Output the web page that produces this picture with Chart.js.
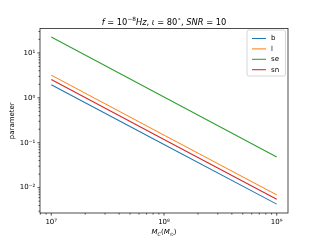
<!DOCTYPE html>
<html>
<head>
<meta charset="utf-8">
<script src="https://cdn.jsdelivr.net/npm/chart.js@4/dist/chart.umd.min.js"></script>
<style>
  html, body { margin: 0; padding: 0; background: #fff; }
  #wrap { width: 320px; height: 240px; }
</style>
</head>
<body>
<div id="wrap"><canvas id="grafico" width="320" height="240"></canvas></div>
<script>
// masas (x) y valores
const masas = [1e7, 1e8, 1e9];
const serieB = [1.95, 0.091, 0.0043];
const serieL = [3.2, 0.148, 0.0069];
const serieSE = [22.5, 1.04, 0.048];
const serieSN = [2.55, 0.118, 0.0055];
const etiquetas = ['b', 'l', 'se', 'sn'];
const colores = ['#1f77b4', '#ff7f0e', '#2ca02c', '#d62728'];

const FUENTE = 'DejaVu Sans';
const sup = { '0': '⁰', '1': '¹', '2': '²', '3': '³', '4': '⁴', '5': '⁵', '6': '⁶', '7': '⁷', '8': '⁸', '9': '⁹', '-': '⁻' };

function etiquetaLog(v) {
  const e = Math.log10(v);
  if (Math.abs(e - Math.round(e)) > 1e-6) return '';
  return '10' + String(Math.round(e)).split('').map(c => sup[c]).join('');
}

function puntos(valores) {
  return masas.map((m, i) => ({ x: m, y: valores[i] }));
}

// dibuja un texto hecho de trozos (normal, cursiva, super/subindice)
function textoCompuesto(ctx, partes, cx, base, size) {
  const fuenteDe = p => `${p.it ? 'italic ' : ''}${p.s ? size * 0.7 : size}px "${FUENTE}"`;
  let total = 0;
  partes.forEach(p => { ctx.font = fuenteDe(p); p.w = ctx.measureText(p.t).width; total += p.w; });
  let x = cx - total / 2;
  ctx.textAlign = 'left';
  ctx.textBaseline = 'alphabetic';
  partes.forEach(p => {
    ctx.font = fuenteDe(p);
    const dy = p.s === 'sup' ? -size * 0.45 : p.s === 'sub' ? size * 0.25 : 0;
    ctx.fillText(p.t, x, base + dy);
    x += p.w;
  });
}

const decoraciones = {
  id: 'decoraciones',
  afterDraw(chart) {
    const ctx = chart.ctx;
    const a = chart.chartArea;
    ctx.save();

    // marco
    ctx.strokeStyle = '#222';
    ctx.lineWidth = 0.8;
    ctx.strokeRect(a.left, a.top, a.right - a.left, a.bottom - a.top);

    // marcas de los ejes log (mayores y menores)
    ['x', 'y'].forEach(id => {
      const sc = chart.scales[id];
      const e0 = Math.floor(Math.log10(sc.min));
      const e1 = Math.ceil(Math.log10(sc.max));
      for (let e = e0; e <= e1; e++) {
        for (let k = 1; k <= 9; k++) {
          const v = k * Math.pow(10, e);
          if (v < sc.min || v > sc.max) continue;
          const p = sc.getPixelForValue(v);
          const largo = k === 1 ? 2.6 : 1.5;
          ctx.beginPath();
          if (id === 'x') {
            ctx.moveTo(p, a.bottom);
            ctx.lineTo(p, a.bottom + largo);
          } else {
            ctx.moveTo(a.left, p);
            ctx.lineTo(a.left - largo, p);
          }
          ctx.stroke();
        }
      }
    });

    // titulo
    ctx.fillStyle = '#000';
    textoCompuesto(ctx, [
      { t: 'f', it: true }, { t: ' = 10' }, { t: '−8', s: 'sup' }, { t: 'Hz', it: true },
      { t: ', ' }, { t: 'ι', it: true }, { t: ' = 80' }, { t: '∘', s: 'sup' }, { t: ', ' },
      { t: 'SNR', it: true }, { t: ' = 10' }
    ], (a.left + a.right) / 2, 24.5, 8.3);

    // etiqueta del eje x
    textoCompuesto(ctx, [
      { t: 'M', it: true }, { t: 'C', it: true, s: 'sub' }, { t: '(' },
      { t: 'M', it: true }, { t: '⊙', s: 'sub' }, { t: ')' }
    ], (a.left + a.right) / 2, 234, 7);

    // leyenda
    const lx = a.right - 41, ly = a.top + 1.5, lw = 38.5, lh = 46;
    ctx.fillStyle = 'rgba(255,255,255,0.8)';
    ctx.strokeStyle = '#cccccc';
    ctx.lineWidth = 0.8;
    ctx.beginPath();
    ctx.roundRect(lx, ly, lw, lh, 2);
    ctx.fill();
    ctx.stroke();
    ctx.font = `7px "${FUENTE}"`;
    ctx.textBaseline = 'middle';
    ctx.textAlign = 'left';
    chart.data.datasets.forEach((ds, i) => {
      const y = ly + 8.5 + i * 10.4;
      ctx.strokeStyle = ds.borderColor;
      ctx.lineWidth = 1.05;
      ctx.beginPath();
      ctx.moveTo(lx + 5, y);
      ctx.lineTo(lx + 19, y);
      ctx.stroke();
      ctx.fillStyle = '#000';
      ctx.fillText(ds.label, lx + 24, y);
    });

    ctx.restore();
  }
};

const series = [serieB, serieL, serieSE, serieSN];

new Chart(document.getElementById('grafico'), {
  type: 'line',
  data: {
    datasets: series.map((s, i) => ({
      label: etiquetas[i],
      data: puntos(s),
      borderColor: colores[i],
      backgroundColor: colores[i],
      borderWidth: 1.05,
      pointRadius: 0,
      tension: 0,
      fill: false
    }))
  },
  options: {
    responsive: false,
    animation: false,
    devicePixelRatio: 1,
    layout: { padding: { top: 28.5, right: 32, left: 0, bottom: 0 } },
    plugins: {
      legend: { display: false },
      title: { display: false },
      tooltip: { enabled: false }
    },
    scales: {
      x: {
        type: 'logarithmic',
        min: Math.pow(10, 6.9),
        max: Math.pow(10, 9.1),
        border: { display: false },
        grid: { display: false, drawTicks: true, tickLength: 2.6 },
        ticks: {
          autoSkip: false,
          maxRotation: 0,
          padding: 2.2,
          color: '#000',
          font: { family: FUENTE, size: 7 },
          callback: v => etiquetaLog(v)
        },
        afterFit: sc => { sc.height = 27; }
      },
      y: {
        type: 'logarithmic',
        min: Math.pow(10, -2.564),
        max: Math.pow(10, 1.543),
        border: { display: false },
        grid: { display: false, drawTicks: true, tickLength: 2.6 },
        ticks: {
          autoSkip: false,
          padding: 2.2,
          color: '#000',
          font: { family: FUENTE, size: 7 },
          callback: v => etiquetaLog(v)
        },
        title: {
          display: true,
          text: 'parameter',
          color: '#000',
          font: { family: FUENTE, size: 7 },
          padding: { top: 8, bottom: 0 }
        },
        afterFit: sc => { sc.width = 40; }
      }
    }
  },
  plugins: [decoraciones]
});
</script>
</body>
</html>
